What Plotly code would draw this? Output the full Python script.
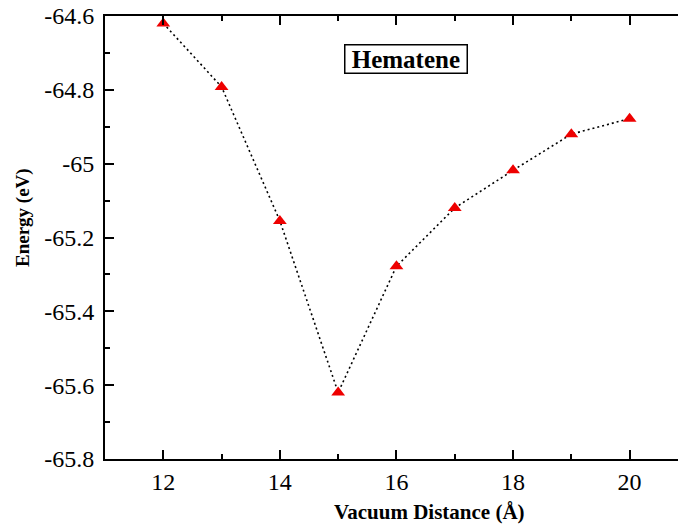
import plotly.graph_objects as go

vacuum_distance = [12, 13, 14, 15, 16, 17, 18, 19, 20]
energy_ev = [-64.62, -64.792, -65.155, -65.62, -65.278, -65.12, -65.018, -64.92, -64.878]
y_ticks = [-65.8, -65.6, -65.4, -65.2, -65.0, -64.8, -64.6]
y_tick_text = ["-65.8", "-65.6", "-65.4", "-65.2", "-65", "-64.8", "-64.6"]
x_ticks = [12, 14, 16, 18, 20]

serif = "Liberation Serif, Times New Roman, serif"

fig = go.Figure()
fig.add_trace(go.Scatter(
    x=vacuum_distance, y=energy_ev, mode="lines+markers",
    line=dict(color="black", width=1.6, dash="2px,3px"),
    marker=dict(symbol="triangle-up", size=12, color="#ee0000", line=dict(width=0)),
    showlegend=False,
))

fig.update_layout(
    width=678, height=527,
    margin=dict(l=105, r=0, t=16, b=68),
    paper_bgcolor="white", plot_bgcolor="white",
    font=dict(family=serif, color="black"),
    xaxis=dict(
        range=[11, 20.83], tickvals=x_ticks, ticks="inside", ticklen=9, tickwidth=1.5,
        showline=True, linecolor="black", linewidth=2, mirror="ticks", showgrid=False,
        zeroline=False, tickfont=dict(family=serif, size=24, color="black"),
        minor=dict(tickvals=[13, 15, 17, 19], ticks="inside", ticklen=5, tickwidth=1.5, tickcolor="black", showgrid=False),
        tickcolor="black",
    ),
    yaxis=dict(
        range=[-65.8, -64.6], tickvals=y_ticks, ticktext=y_tick_text, ticks="inside", ticklen=9, tickwidth=1.5,
        showline=True, linecolor="black", linewidth=2, mirror=False, showgrid=False,
        zeroline=False, tickfont=dict(family=serif, size=24, color="black"),
        minor=dict(tickvals=[-65.7, -65.5, -65.3, -65.1, -64.9, -64.7], ticks="inside", ticklen=5, tickwidth=1.5, tickcolor="black", showgrid=False),
        tickcolor="black", ticklabelstandoff=4,
    ),
    annotations=[
        dict(text="&nbsp;<b>Hematene</b>&nbsp;", x=406, y=527 - 59, showarrow=False,
             font=dict(family=serif, size=25, color="black"),
             bordercolor="black", borderwidth=1.5, borderpad=0, bgcolor="white"),
        dict(text="<b>Vacuum Distance (Å)</b>", x=429, y=527 - 512, showarrow=False,
             font=dict(family=serif, size=21, color="black")),
        dict(text="<b>Energy (eV)</b>", x=23, y=527 - 218, showarrow=False, textangle=-90,
             font=dict(family=serif, size=19, color="black")),
    ],
)

# convert pixel positions of annotations to paper coordinates
plot_w = 678 - 105
plot_h = 527 - 16 - 68
for a in fig.layout.annotations:
    a.x = (a.x - 105) / plot_w
    a.y = (a.y - 68) / plot_h
    a.xref = "paper"
    a.yref = "paper"
    a.xanchor = "center"
    a.yanchor = "middle"

fig.write_html("out.html")
